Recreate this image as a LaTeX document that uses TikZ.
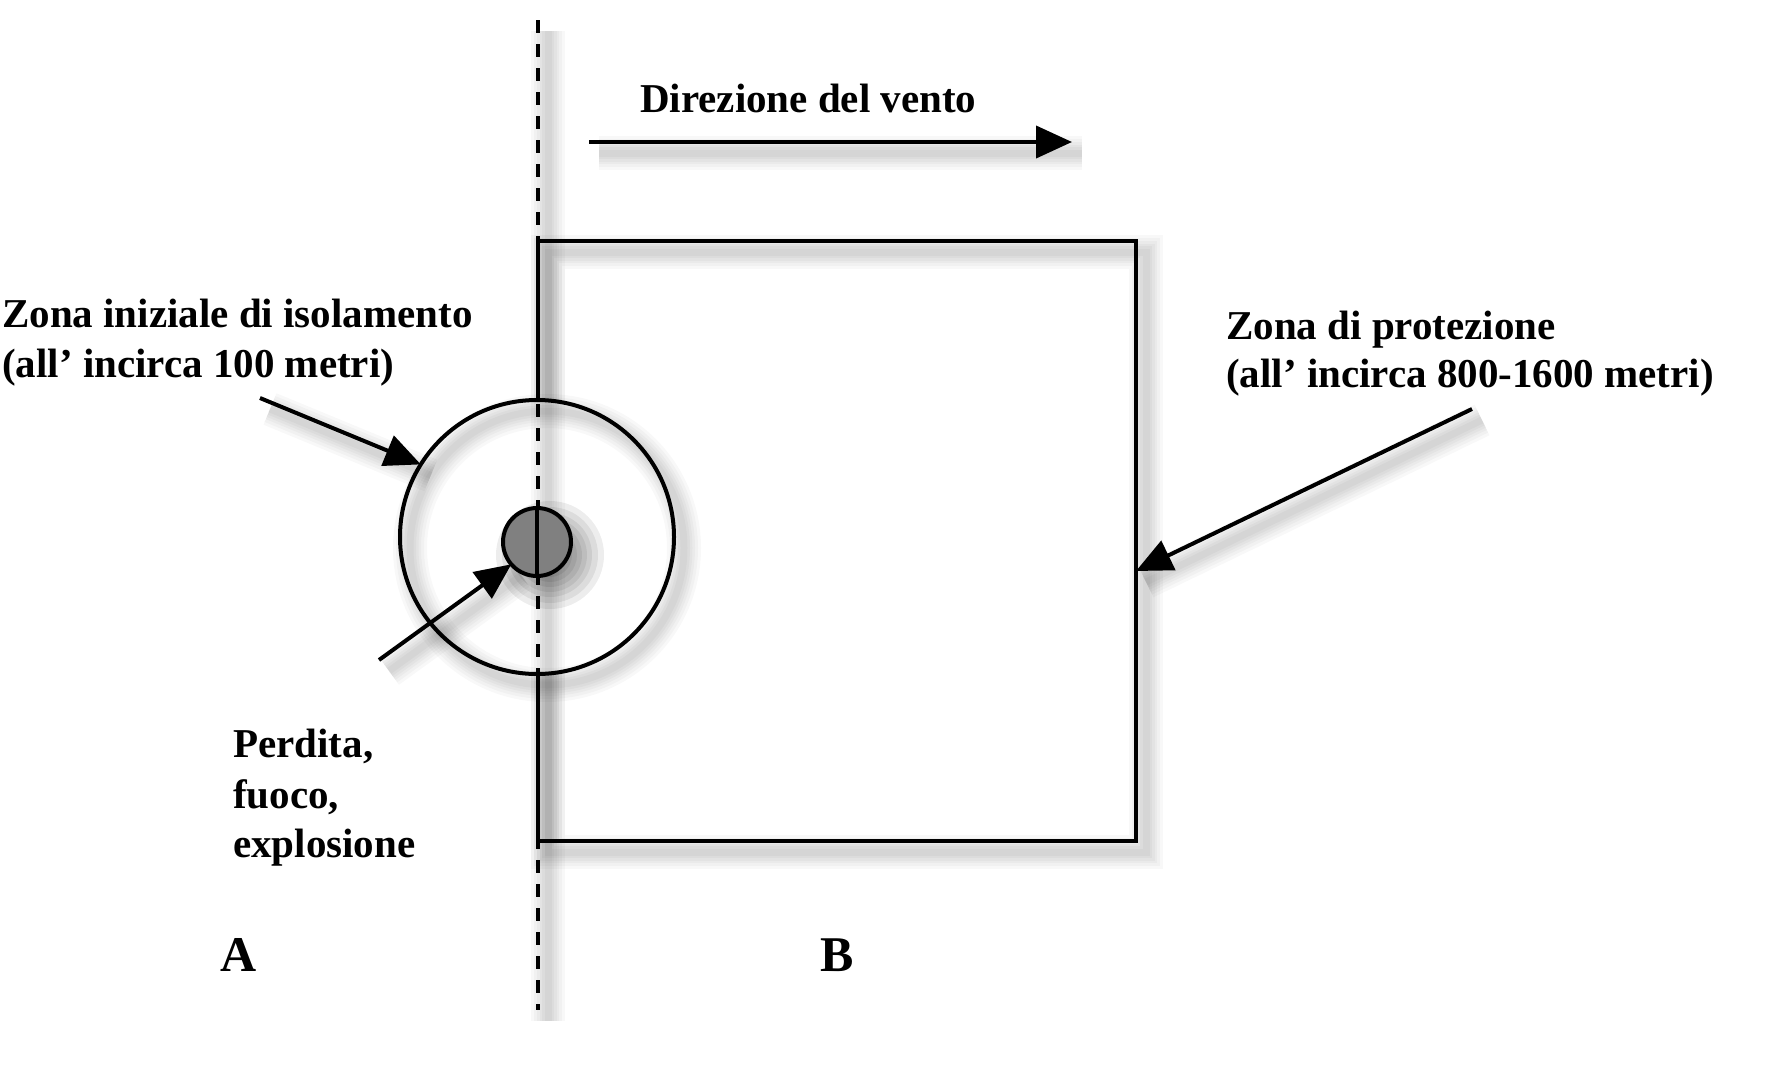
\documentclass[tikz,border=0pt]{standalone}
\usepackage{fontspec}
\setmainfont{Liberation Serif}
\usetikzlibrary{arrows.meta,calc}
\tikzset{
  shp/.style={preaction={draw=black,draw opacity=0.028,line width=#1,solid,arrows=-,transform canvas={shift={(10pt,-11pt)}}}},
  sh/.style={shp=34pt,shp=28pt,shp=22pt,shp=17pt,shp=12pt,shp=7pt},
  ln/.style={line width=4pt,draw=black},
  tipd/.style={-{Triangle[length=36pt,width=32pt]}},
  lbl/.style={font=\fontsize{41}{50}\selectfont\bfseries, anchor=base west, inner sep=0pt},
  bigl/.style={font=\fontsize{50}{60}\selectfont\bfseries, anchor=base west, inner sep=0pt},
  shape0/.style={inner sep=0pt, outer sep=0pt}
}
\begin{document}
\begin{tikzpicture}[x=1pt,y=-1pt]
\useasboundingbox[fill=white] (0,0) rectangle (1773,1072);

% named geometry
\node[shape0, minimum width=598pt, minimum height=600pt] (R) at (837,541) {};
\node[shape0, circle, minimum size=274pt] (C) at (537,537) {};
\node[shape0, circle, minimum size=68pt] (S) at (537,542) {};
\coordinate (dtop) at (538,20);
\coordinate (dbot) at (538,1010);
\coordinate (w1) at (589,142);
\coordinate (w2) at (1072,142);
\coordinate (a1) at (260,398);
\coordinate (a2) at (379,660);
\coordinate (a3) at (1472,409);
\coordinate (rhit) at ($(R.north east)!0.55!(R.south east)$);

% rectangle (protection zone)
\draw[ln,sh] (R.north west) rectangle (R.south east);

% white interior of the isolation circle hides the rectangle edge
\fill[white] (C.center) circle (136pt);
\draw[ln,sh] (C.center) circle (137pt);

% dashed boundary line
\draw[ln,sh,dash pattern=on 13pt off 11pt] (dtop) -- (dbot);

% source (small grey disc) with darker shadow
\begin{scope}[transform canvas={shift={(13pt,-13pt)}}]
  \foreach \r in {54,48,42,37,32,27,22}
    \fill[black,opacity=0.07] (S.center) circle (\r pt);
\end{scope}
\draw[ln,fill={rgb,255:red,128;green,128;blue,128}] (S.center) circle (34pt);
\draw[ln] (S.north) -- (S.south);

% arrows
\draw[ln,sh,tipd] (w1) -- (w2);
\draw[ln,sh,tipd] (a1) -- (C.148);
\draw[ln,sh,tipd] (a2) -- (S.221);
\draw[ln,sh,tipd] (a3) -- (rhit);

% labels
\node[lbl] (dir) at (640,112) {Direzione del vento};
\node[lbl] (zi1) at (2,327) {Zona iniziale di isolamento};
\node[lbl] (zi2) at (2,377) {(all’ incirca 100 metri)};
\node[lbl] (zp1) at (1226,339) {Zona di protezione};
\node[lbl] (zp2) at (1226,387) {(all’ incirca 800-1600 metri)};
\node[lbl] (p1) at (233,757) {Perdita,};
\node[lbl] (p2) at (233,808) {fuoco,};
\node[lbl] (p3) at (233,857) {explosione};
\node[bigl] (A) at (220,971) {A};
\node[bigl] (B) at (820,971) {B};
\end{tikzpicture}
\end{document}
